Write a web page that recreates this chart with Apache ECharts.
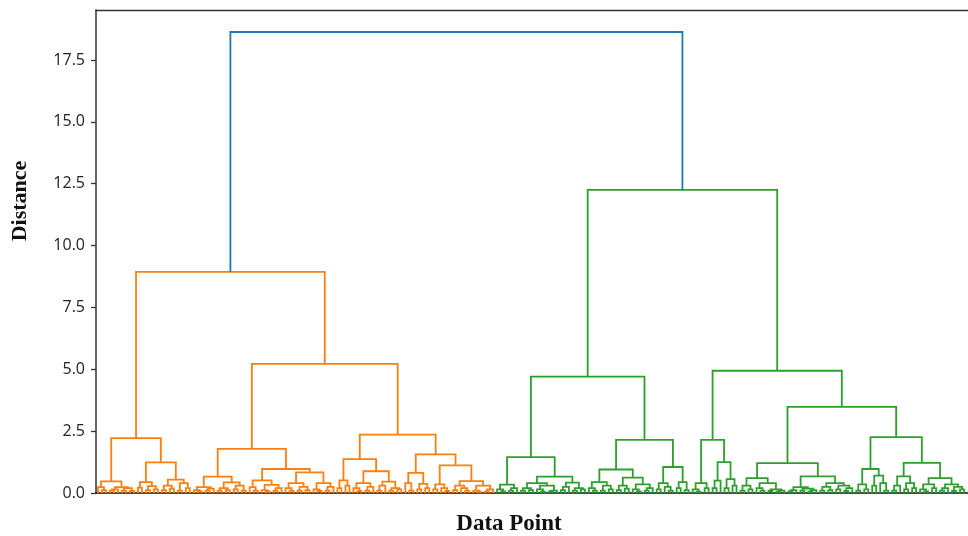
<!DOCTYPE html>
<html>
<head>
<meta charset="utf-8">
<script src="https://cdn.jsdelivr.net/npm/echarts@6/dist/echarts.min.js"></script>
<style>
  html, body { margin: 0; padding: 0; background: #fff; }
  #chart { width: 968px; height: 536px; }
</style>
</head>
<body>
<div id="chart"></div>
<script>
// Dendrogram merge trees: an internal node is [mergeDistance, left, right], a leaf is 0.
const rootDistance = 18.63;
const orangeTop = 8.94;
const greenTop = 12.25;

const orangeA = [2.22,
  [0.47,
    [0.24, 0, [0.12, 0, 0]],
    [0.24, [0.15, [0.1, 0, 0], 0], [0.2, [0.1, 0, 0], [0.08, 0, 0]]]
  ],
  [1.24,
    [0.44,
      [0.22, 0, 0],
      [0.28, [0.12, 0, 0], [0.15, 0, 0]]
    ],
    [0.54,
      [0.3, [0.12, 0, 0], [0.18, 0, 0]],
      [0.4, [0.1, 0, 0], [0.2, 0, 0]]
    ]
  ]
];

const orangeB = [5.22,
  [1.78,
    [0.66,
      [0.24, [0.12, 0, [0.06, 0, 0]], [0.18, [0.1, 0, 0], 0]],
      [0.43, [0.2, [0.1, 0, 0], [0.12, 0, 0]], [0.3, [0.15, 0, 0], [0.1, 0, 0]]]
    ],
    [0.97,
      [0.51,
        [0.24, 0, [0.1, 0, 0]],
        [0.33, [0.12, 0, [0.06, 0, 0]], [0.2, [0.1, 0, 0], 0]]
      ],
      [0.83,
        [0.4, [0.2, 0, [0.1, 0, 0]], [0.25, [0.1, 0, 0], [0.12, 0, 0]]],
        [0.4, [0.15, 0, [0.08, 0, 0]], [0.25, [0.1, 0, 0], 0]]
      ]
    ]
  ],
  [2.36,
    [1.37,
      [0.51, [0.2, 0, 0], [0.3, 0, 0]],
      [0.88,
        [0.4, [0.2, 0, [0.08, 0, 0]], [0.25, [0.1, 0, 0], 0]],
        [0.46, [0.3, [0.1, 0, 0], 0], [0.2, [0.1, 0, 0], [0.15, 0, 0]]]
      ]
    ],
    [1.56,
      [0.81,
        [0.4, 0, [0.1, 0, 0]],
        [0.37, [0.15, 0, 0], [0.2, 0, 0]]
      ],
      [1.12,
        [0.35, [0.15, 0, 0], [0.2, 0, [0.08, 0, 0]]],
        [0.48,
          [0.3, [0.12, 0, 0], [0.2, 0, [0.1, 0, 0]]],
          [0.3, [0.1, 0, [0.05, 0, 0]], [0.15, [0.06, 0, 0], 0]]
        ]
      ]
    ]
  ]
];

const greenL = [4.70,
  [1.45,
    [0.34, [0.15, 0, [0.06, 0, 0]], [0.2, [0.1, 0, 0], 0]],
    [0.66,
      [0.4, [0.2, [0.1, 0, 0], [0.12, 0, 0]], [0.3, [0.15, 0, [0.05, 0, 0]], [0.1, [0.06, 0, 0], 0]]],
      [0.42, [0.25, [0.12, 0, 0], 0], [0.2, [0.1, 0, 0], [0.15, 0, 0]]]
    ]
  ],
  [2.15,
    [0.95,
      [0.44, [0.2, 0, [0.1, 0, 0]], [0.3, [0.1, 0, 0], [0.15, 0, 0]]],
      [0.62, [0.3, [0.12, 0, 0], [0.18, 0, 0]], [0.35, [0.15, 0, [0.06, 0, 0]], [0.2, [0.1, 0, 0], 0]]]
    ],
    [1.05,
      [0.4, [0.15, 0, 0], [0.25, 0, [0.1, 0, 0]]],
      [0.44, [0.2, 0, 0], [0.12, 0, 0]]
    ]
  ]
];

const greenR = [4.94,
  [2.15,
    [0.4, [0.15, 0, [0.05, 0, 0]], [0.2, 0, 0]],
    [1.25,
      [0.5, [0.2, 0, 0], 0],
      [0.56, [0.2, 0, 0], [0.3, 0, 0]]
    ]
  ],
  [3.48,
    [1.21,
      [0.6,
        [0.3, [0.1, 0, 0], [0.15, 0, 0]],
        [0.4, [0.2, 0, [0.1, 0, 0]], [0.15, [0.08, 0, 0], [0.1, [0.05, 0, 0], 0]]]
      ],
      [0.67,
        [0.24, [0.12, [0.06, 0, 0], 0], [0.18, [0.1, 0, 0], [0.12, [0.05, 0, 0], 0]]],
        [0.4, [0.25, [0.1, 0, 0], [0.12, 0, 0]], [0.3, [0.15, 0, 0], [0.2, [0.08, 0, 0], 0]]]
      ]
    ],
    [2.26,
      [0.97,
        [0.35, [0.1, 0, 0], [0.15, 0, 0]],
        [0.7, [0.3, 0, 0], [0.4, 0, [0.1, 0, 0]]]
      ],
      [1.22,
        [0.67, [0.3, [0.1, 0, 0], 0], [0.4, [0.15, 0, 0], [0.2, 0, 0]]],
        [0.6,
          [0.35, [0.15, 0, [0.06, 0, 0]], [0.2, 0, 0]],
          [0.35, [0.2, [0.1, 0, 0], 0], [0.25, [0.08, 0, 0], [0.15, 0, 0]]]
        ]
      ]
    ]
  ]
];

const yTicks = [0, 2.5, 5, 7.5, 10, 12.5, 15, 17.5];
const palette = ['#1f77b4', '#ff7f0e', '#2ca02c'];

// Walk the trees left to right, giving each leaf the next integer position
// and recording every merge as a U-shaped link.
let leafCursor = 0;
const links = [];
function place(node, colorIdx) {
  if (node === 0) return { x: leafCursor++, y: 0 };
  const a = place(node[1], colorIdx);
  const b = place(node[2], colorIdx);
  links.push([a.x, a.y, node[0], b.x, b.y, colorIdx]);
  return { x: (a.x + b.x) / 2, y: node[0] };
}
const orangeRoot = place([orangeTop, orangeA, orangeB], 1);
const greenRoot = place([greenTop, greenL, greenR], 2);
links.push([orangeRoot.x, orangeRoot.y, rootDistance, greenRoot.x, greenRoot.y, 0]);
const leafCount = leafCursor;

const chart = echarts.init(document.getElementById('chart'));
chart.setOption({
  animation: false,
  grid: { left: 96, top: 10, right: -2, bottom: 43, show: false },
  xAxis: [
    {
      type: 'value',
      min: -0.5,
      max: leafCount,
      axisLine: { show: true, onZero: false, lineStyle: { color: '#111111', width: 1.6 } },
      axisTick: { show: false },
      axisLabel: { show: false },
      splitLine: { show: false }
    },
    {
      // top frame edge
      type: 'value',
      position: 'top',
      min: -0.5,
      max: leafCount,
      axisLine: { show: true, onZero: false, lineStyle: { color: '#333333', width: 1.4 } },
      axisTick: { show: false },
      axisLabel: { show: false },
      splitLine: { show: false }
    }
  ],
  yAxis: {
    type: 'value',
    min: 0,
    max: 19.52,
    position: 'left',
    axisLine: { show: true, onZero: false, lineStyle: { color: '#333333', width: 1.5 } },
    axisTick: { show: true, length: 5, customValues: yTicks, lineStyle: { color: '#333333', width: 1.3 } },
    axisLabel: {
      customValues: yTicks,
      formatter: v => Number(v).toFixed(1),
      fontFamily: 'Open Sans', fontSize: 16, color: '#222222', margin: 11
    },
    splitLine: { show: false }
  },
  graphic: [
    {
      type: 'text', x: 20, y: 201, rotation: Math.PI / 2,
      style: {
        text: 'Distance', font: 'bold 22px "Liberation Serif"', fill: '#111111',
        textAlign: 'center', textVerticalAlign: 'middle'
      }
    },
    {
      type: 'text', x: 509, y: 524,
      style: {
        text: 'Data Point', font: 'bold 23px "Liberation Serif"', fill: '#111111',
        textAlign: 'center', textVerticalAlign: 'middle'
      }
    }
  ],
  series: [{
    type: 'custom',
    silent: true,
    clip: false,
    encode: { x: [0, 3], y: [1, 2, 4] },
    data: links,
    renderItem: function (params, api) {
      const xl = api.value(0), yl = api.value(1), h = api.value(2);
      const xr = api.value(3), yr = api.value(4);
      const pts = [
        api.coord([xl, yl]), api.coord([xl, h]),
        api.coord([xr, h]), api.coord([xr, yr])
      ];
      return {
        type: 'polyline',
        shape: { points: pts },
        style: { stroke: palette[api.value(5)], lineWidth: 1.8, fill: null }
      };
    }
  }]
});
</script>
</body>
</html>
